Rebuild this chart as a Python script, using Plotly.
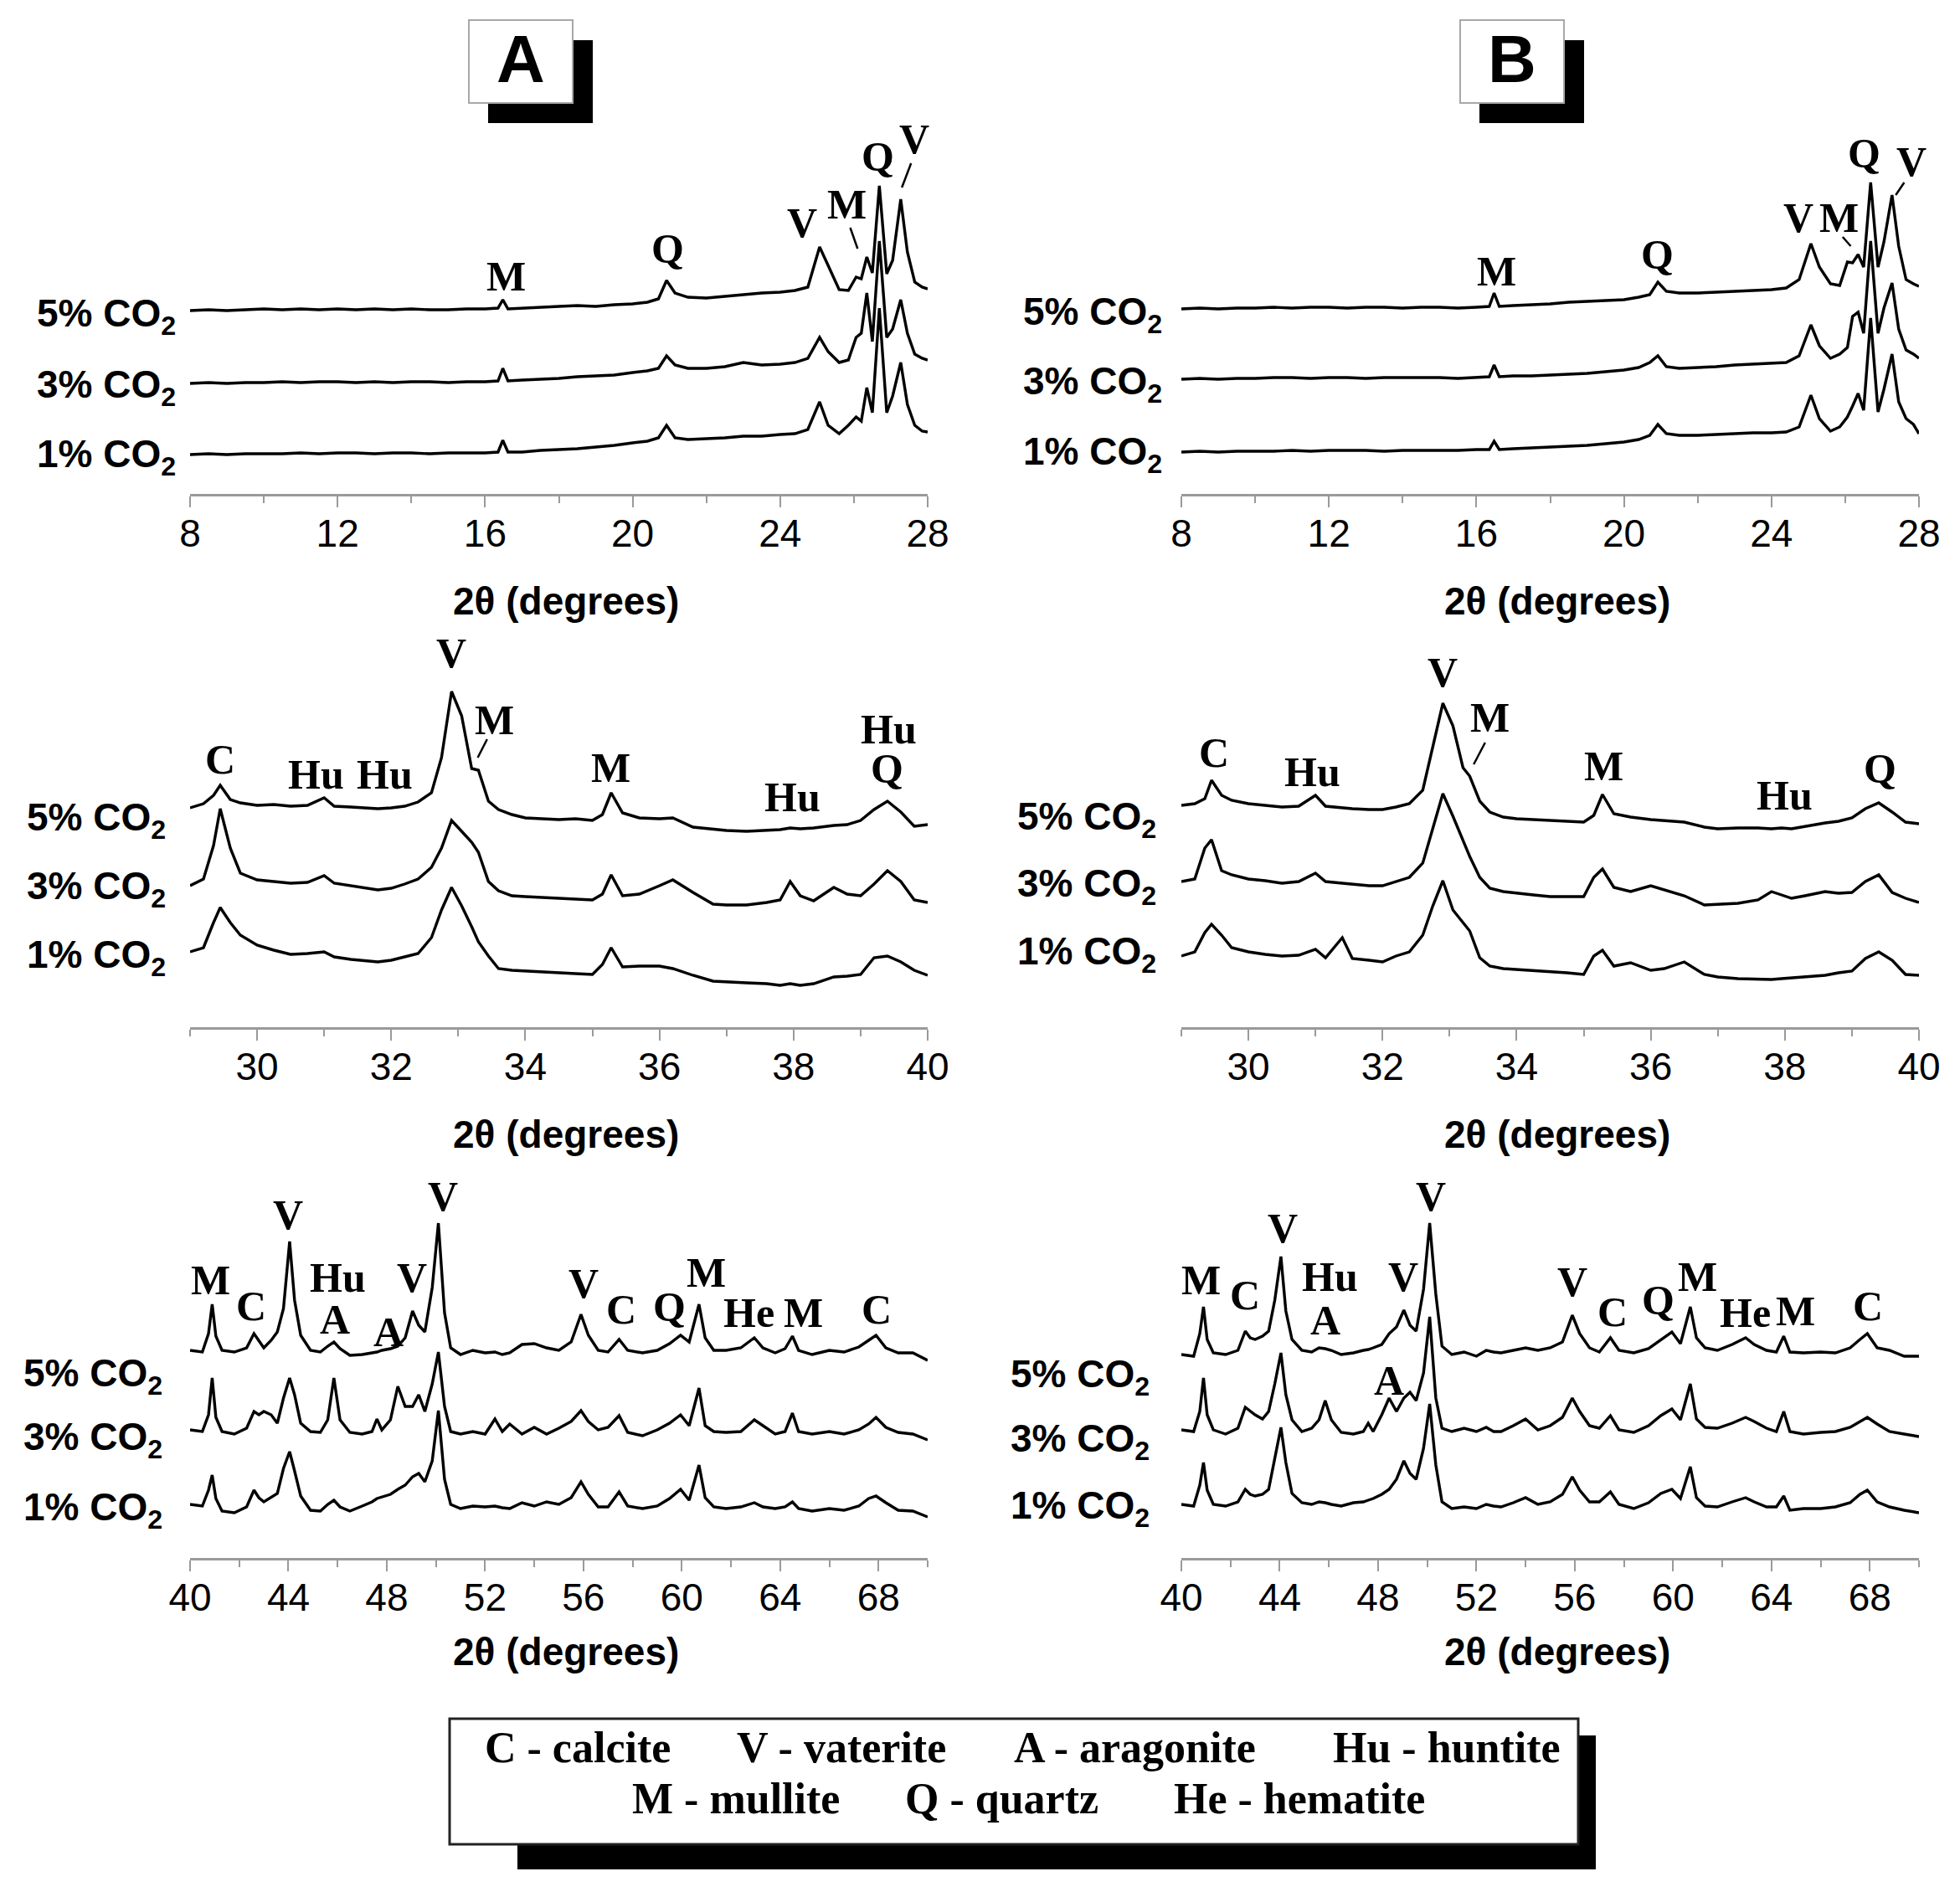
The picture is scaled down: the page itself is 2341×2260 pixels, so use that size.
import plotly.graph_objects as go

W, H = 2341, 2260
PAGE = 8  # the page body margin pushes the figure 8 px right and down

# ---------------- XRD patterns (intensity above each pattern's own start) ----------------
# top row, 8-28 deg
top_x = [8.0, 8.5, 9.0, 9.5, 10.0, 10.5, 11.0, 11.5, 12.0, 12.5, 13.0, 13.5, 14.0, 14.5, 15.0,
         15.5, 16.0, 16.35, 16.48, 16.62, 17.0, 17.5, 18.0, 18.5, 19.0, 19.5, 20.0, 20.4, 20.7, 20.92,
         21.15, 21.5, 22.0, 22.5, 23.0, 23.5, 24.0, 24.4, 24.75, 25.07, 25.3, 25.6, 25.85, 26.06, 26.2,
         26.35, 26.5, 26.69, 26.89, 27.05, 27.27, 27.45, 27.65, 27.85, 28.0]
top_a_5 = [0, 1, 0, 1, 2, 1, 2, 1, 2, 1, 2, 1, 2, 1, 1, 2, 2, 3, 13, 2, 3, 4, 5, 6, 5, 7, 8, 10, 14, 36,
           21, 16, 15, 17, 19, 21, 22, 24, 28, 76, 54, 25, 24, 40, 38, 64, 45, 149, 44, 60, 133, 70, 34, 28, 26]
top_a_3 = [0, 1, 0, 1, 1, 2, 1, 2, 2, 1, 2, 1, 2, 2, 1, 2, 2, 3, 18, 3, 4, 5, 6, 8, 9, 10, 13, 15, 18, 33,
           22, 18, 18, 20, 25, 22, 23, 25, 30, 55, 38, 25, 28, 55, 60, 108, 50, 170, 55, 65, 100, 60, 35, 30, 28]
top_a_1 = [0, 1, 0, 1, 1, 1, 2, 1, 2, 2, 1, 2, 2, 1, 2, 2, 2, 3, 17, 3, 3, 5, 6, 7, 9, 11, 14, 16, 20, 35,
           20, 18, 19, 20, 22, 22, 24, 25, 30, 63, 35, 25, 35, 45, 40, 80, 50, 175, 50, 70, 110, 60, 35, 28, 27]
top_b_5 = [0, 1, 0, 1, 1, 2, 1, 2, 2, 1, 2, 2, 1, 2, 2, 1, 2, 3, 19, 3, 4, 5, 6, 8, 9, 10, 11, 14, 17, 32,
           21, 19, 19, 20, 21, 22, 23, 25, 35, 78, 50, 30, 28, 56, 55, 65, 50, 151, 50, 80, 136, 75, 35, 30, 27]
top_b_3 = [0, 1, 0, 1, 1, 2, 2, 1, 2, 2, 1, 2, 2, 2, 2, 1, 2, 3, 17, 3, 4, 4, 5, 6, 7, 9, 11, 14, 20, 28,
           15, 13, 14, 15, 17, 18, 19, 20, 28, 65, 40, 25, 30, 38, 75, 80, 55, 165, 55, 85, 115, 60, 35, 30, 25]
top_b_1 = [0, 1, 0, 1, 1, 1, 2, 1, 2, 2, 2, 1, 2, 2, 2, 2, 3, 3, 13, 3, 4, 5, 6, 7, 8, 10, 12, 15, 20, 33,
           22, 20, 20, 21, 22, 23, 23, 24, 30, 68, 40, 25, 30, 42, 55, 70, 50, 160, 48, 75, 117, 60, 40, 33, 22]

# middle row, 29-40 deg
mid_x = [29.0, 29.2, 29.35, 29.45, 29.6, 29.75, 30.0, 30.25, 30.5, 30.75, 31.0, 31.15, 31.4, 31.55, 31.8,
         32.0, 32.2, 32.4, 32.6, 32.75, 32.9, 33.05, 33.2, 33.3, 33.45, 33.6, 33.8, 34.0, 34.25, 34.5,
         34.75, 35.0, 35.15, 35.28, 35.45, 35.7, 36.0, 36.2, 36.5, 36.8, 37.0, 37.3, 37.6, 37.8, 37.95,
         38.1, 38.3, 38.6, 38.8, 39.0, 39.2, 39.4, 39.6, 39.8, 40.0]
mid_a_5 = [0, 5, 15, 27, 10, 6, 3, 4, 2, 3, 12, 2, 1, 0, -1, 0, 2, 7, 18, 60, 139, 110, 47, 45, 8,
           -2, -8, -12, -13, -14, -13, -15, -8, 18, -6, -12, -13, -12, -23, -25, -27, -28, -27, -26, -24,
           -25, -24, -21, -20, -15, -2, 8, -5, -22, -20]
mid_a_3 = [0, 8, 48, 92, 45, 15, 7, 5, 3, 4, 12, 3, 0, -2, -5, -3, 2, 8, 22, 45, 78, 65, 52, 40, 5,
           -6, -12, -13, -14, -15, -16, -17, -10, 13, -12, -10, 0, 7, -8, -22, -23, -23, -20, -17, 5,
           -12, -18, -2, -10, -12, 2, 18, 5, -17, -20]
mid_a_1 = [0, 5, 35, 53, 35, 20, 8, 2, -3, -2, 0, -6, -9, -10, -12, -10, -6, -2, 17, 50, 77, 55, 30, 12, -5,
           -20, -22, -23, -24, -25, -26, -27, -15, 5, -18, -17, -17, -20, -28, -35, -36, -37, -38, -40, -38,
           -40, -38, -30, -29, -27, -7, -5, -12, -22, -28]
mid_b_5 = [0, 2, 8, 30, 12, 6, 2, 0, -2, -1, 12, -1, -3, -4, -5, -5, -2, 2, 18, 70, 122, 95, 45, 35, 5,
           -8, -14, -16, -17, -18, -19, -20, -12, 13, -10, -14, -17, -18, -20, -26, -28, -27, -27, -28, -27,
           -28, -25, -21, -19, -15, -4, 3, -8, -20, -22]
mid_b_3 = [0, 3, 40, 50, 13, 8, 3, 1, -2, 0, 10, 0, -2, -3, -5, -5, 0, 5, 22, 65, 105, 78, 50, 30, 5,
           -8, -12, -14, -16, -18, -18, -18, 5, 15, -7, -12, -5, -10, -17, -28, -27, -26, -22, -12, -16,
           -20, -17, -12, -14, -13, 0, 8, -13, -20, -25]
mid_b_1 = [0, 5, 28, 38, 25, 10, 5, 2, 0, 1, 8, -2, 22, -3, -5, -7, 0, 5, 25, 60, 90, 55, 40, 30, -2,
           -12, -15, -16, -17, -18, -20, -22, 0, 7, -12, -8, -17, -15, -7, -22, -25, -27, -28, -28, -27,
           -26, -25, -23, -20, -18, -3, 5, -5, -22, -23]

# bottom row, 40-70 deg
bot_x = [40.0, 40.5, 40.75, 40.9, 41.05, 41.3, 41.8, 42.3, 42.6, 42.8, 43.0, 43.3, 43.55, 43.8, 44.05,
         44.25, 44.5, 44.9, 45.3, 45.6, 45.85, 46.1, 46.5, 47.0, 47.4, 47.6, 47.8, 48.15, 48.45, 48.75,
         49.05, 49.3, 49.55, 49.85, 50.1, 50.35, 50.6, 51.0, 51.5, 52.0, 52.4, 52.7, 53.0, 53.5, 54.0,
         54.5, 55.0, 55.5, 55.9, 56.2, 56.6, 57.0, 57.45, 57.8, 58.4, 59.0, 59.5, 59.95, 60.3, 60.7,
         60.95, 61.3, 61.8, 62.4, 62.95, 63.3, 63.8, 64.2, 64.5, 64.75, 65.3, 66.0, 66.6, 67.2, 67.6,
         67.9, 68.3, 68.8, 69.4, 70.0]
bot_a_5 = [0, -2, 20, 55, 17, 0, -2, 3, 20, 12, 3, 12, 22, 50, 130, 60, 18, 0, -2, 5,
           10, 2, -6, -5, -3, -2, 0, 2, 5, 15, 47, 30, 22, 75, 152, 45, 3, -5, 0, -3,
           -2, -5, -3, 7, 8, 3, 0, 10, 43, 18, 0, -2, 13, 0, -3, 0, 8, 18, 10, 55,
           15, 0, 0, 3, 15, 3, -3, 2, 17, 0, -5, 0, -2, 4, 12, 18, 3, -3, -3, -12]
bot_a_3 = [0, -2, 18, 62, 15, -2, -5, 2, 22, 18, 22, 18, 8, 38, 62, 42, 8, -2, -3, 12,
           62, 12, -3, -5, -2, 13, 0, 12, 52, 28, 28, 42, 22, 55, 93, 28, -2, -5, -2, -5,
           13, -2, 7, -5, 3, -5, 2, 10, 23, 10, 0, 3, 17, -3, -7, 0, 8, 18, 5, 50,
           5, -2, -3, -2, 12, 5, -5, -2, 20, -2, -5, -2, -5, 0, 7, 15, 3, -3, -5, -12]
bot_a_1 = [0, -2, 17, 35, 7, -8, -10, -3, 17, 8, 3, 8, 13, 43, 63, 40, 10, -7, -8, 0,
           5, -3, -8, -2, 3, 7, 9, 12, 18, 23, 33, 37, 27, 52, 112, 30, 0, -5, -2, -3,
           -2, -4, -5, 2, -2, 3, 0, 8, 27, 12, -3, -3, 15, -2, -5, -2, 7, 18, 5, 47,
           8, -3, -5, -3, 2, -3, -5, -3, 3, -5, -8, -5, -7, -2, 7, 10, 2, -7, -8, -15]
bot_b_5 = [0, -2, 25, 57, 18, 2, 0, 5, 28, 20, 18, 22, 28, 65, 117, 52, 18, 5, 3, 8,
           7, 5, 0, 2, 5, 6, 8, 12, 25, 33, 53, 35, 28, 78, 157, 72, 10, 0, 3, -2,
           5, 3, 2, 5, 8, 5, 8, 15, 47, 25, 8, 3, 20, 5, 2, 7, 18, 27, 13, 57,
           20, 8, 5, 12, 20, 12, 5, 3, 22, 3, 2, 3, 2, 8, 18, 25, 8, 5, -2, -2]
bot_b_3 = [0, -2, 22, 62, 18, 0, -5, 2, 27, 22, 18, 13, 22, 55, 92, 42, 12, -2, 2, 12,
           35, 12, -3, -5, -2, 8, -2, 18, 38, 22, 38, 45, 35, 68, 135, 38, 2, -2, 2, -2,
           3, -2, -2, 5, 13, 0, 5, 15, 38, 22, 5, 2, 17, 0, -3, 5, 17, 25, 12, 55,
           13, 3, 2, 8, 15, 10, 2, -2, 22, -2, -5, -3, -2, 3, 10, 15, 7, -2, -5, -8]
bot_b_1 = [0, -2, 23, 50, 17, 0, -2, 3, 18, 12, 10, 12, 18, 57, 92, 50, 13, 2, 0, 3,
           2, 0, -2, 2, 3, 5, 7, 12, 18, 30, 52, 37, 30, 67, 120, 47, 3, -5, -3, -5,
           0, -2, -3, 2, 8, 0, 3, 12, 33, 17, 3, 3, 15, 0, -5, 2, 13, 18, 7, 45,
           8, -2, -3, 3, 8, 3, -3, -3, 10, -7, -5, -5, -3, 2, 12, 17, 3, -3, -7, -10]

sample_labels = ["5% CO<sub>2</sub>", "3% CO<sub>2</sub>", "1% CO<sub>2</sub>"]

# peak assignments per panel: (phase, 2theta, label height)
peaks_top_a = [("M", 16.58, 260), ("Q", 20.96, 293), ("V", 24.6, 324), ("M", 25.81, 346),
               ("Q", 26.64, 403), ("V", 27.64, 424)]
peaks_top_b = [("M", 16.55, 266), ("Q", 20.91, 286), ("V", 24.74, 330), ("M", 25.84, 330),
               ("Q", 26.52, 407), ("V", 27.8, 397)]
peaks_mid_a = [("C", 29.45, 320), ("Hu", 30.88, 302), ("Hu", 31.9, 302), ("V", 32.89, 447),
               ("M", 33.54, 367), ("M", 35.28, 310), ("Hu", 37.98, 275), ("Hu", 39.42, 356),
               ("Q", 39.39, 309)]
peaks_mid_b = [("C", 29.49, 328), ("Hu", 30.96, 305), ("V", 32.9, 424), ("M", 33.6, 370),
               ("M", 35.3, 312), ("Hu", 38.0, 277), ("Q", 39.42, 309)]
peaks_bot_a = [("M", 40.82, 332), ("C", 42.5, 301), ("V", 43.99, 410), ("Hu", 46.01, 335),
               ("A", 45.89, 285), ("A", 48.07, 270), ("V", 49.03, 335), ("V", 50.27, 432),
               ("V", 55.99, 328), ("C", 57.52, 297), ("Q", 59.5, 300), ("M", 60.99, 341),
               ("He", 62.72, 293), ("M", 64.95, 293), ("C", 67.92, 297)]
peaks_bot_b = [("M", 40.81, 332), ("C", 42.6, 314), ("V", 44.12, 394), ("Hu", 46.03, 336),
               ("A", 45.85, 284), ("V", 49.03, 336), ("V", 50.15, 432), ("A", 48.45, 212),
               ("V", 55.9, 330), ("C", 57.53, 294), ("Q", 59.39, 308), ("M", 60.99, 336),
               ("He", 62.95, 293), ("M", 64.99, 295), ("C", 67.91, 301)]

legend_row1 = ["C - calcite", "V - vaterite", "A - aragonite", "Hu - huntite"]
legend_row2 = ["M - mullite", "Q - quartz", "He - hematite"]

# ---------------- layout helpers ----------------
SPAN = 460
dom_x = {"A": (227, 1108), "B": (1411, 2292)}
row_axis = {"top": 590, "mid": 1227, "bot": 1861}
row_ticks = {
    "top": dict(range=[8, 28], tick0=8, dtick=4, minor=2, m0=8, title=128),
    "mid": dict(range=[29, 40], tick0=30, dtick=2, minor=1, m0=29, title=128),
    "bot": dict(range=[40, 70], tick0=40, dtick=4, minor=2, m0=40, title=112),
}


def fx(px):
    return (px - PAGE) / W


def fy(py):
    return 1 - (py - PAGE) / H


panels = [
    dict(row="top", col="A", x=top_x, ys=[top_a_5, top_a_3, top_a_1], off=[219, 132, 47],
         lab_y=[218, 133, 50], lab_r=212, peaks=peaks_top_a,
         leaders=[(25.9, 318, 26.1, 293), (27.55, 395, 27.3, 366)]),
    dict(row="top", col="B", x=top_x, ys=[top_b_5, top_b_3, top_b_1], off=[221, 137, 50],
         lab_y=[220, 137, 53], lab_r=1390, peaks=peaks_top_b,
         leaders=[(25.93, 307, 26.15, 296), (27.6, 372, 27.37, 357)]),
    dict(row="mid", col="A", x=mid_x, ys=[mid_a_5, mid_a_3, mid_a_1], off=[262, 169, 90],
         lab_y=[254, 172, 90], lab_r=200, peaks=peaks_mid_a,
         leaders=[(33.43, 344, 33.29, 322)]),
    dict(row="mid", col="B", x=mid_x, ys=[mid_b_5, mid_b_3, mid_b_1], off=[265, 174, 85],
         lab_y=[255, 175, 94], lab_r=1383, peaks=peaks_mid_b,
         leaders=[(33.53, 340, 33.36, 314)]),
    dict(row="bot", col="A", x=bot_x, ys=[bot_a_5, bot_a_3, bot_a_1], off=[248, 153, 64],
         lab_y=[224, 148, 64], lab_r=196, peaks=peaks_bot_a, leaders=[]),
    dict(row="bot", col="B", x=bot_x, ys=[bot_b_5, bot_b_3, bot_b_1], off=[243, 153, 64],
         lab_y=[223, 146, 66], lab_r=1375, peaks=peaks_bot_b, leaders=[]),
]

AXIS_GRAY = "#9a9a9a"
SANS = "Liberation Sans, Arial, sans-serif"
NARROW = "Liberation Sans Narrow, Liberation Sans, Arial, sans-serif"
SERIF = "Liberation Serif, Times New Roman, serif"

fig = go.Figure()
layout = {}
annotations = []
shapes = []

for i, p in enumerate(panels):
    n = i + 1
    sfx = "" if n == 1 else str(n)
    xa, ya = "x" + sfx, "y" + sfx
    for ys, off in zip(p["ys"], p["off"]):
        fig.add_trace(go.Scatter(x=p["x"], y=[v + off for v in ys], mode="lines",
                                 line=dict(color="black", width=3.4),
                                 xaxis=xa, yaxis=ya, hoverinfo="skip", showlegend=False))

    ax_px = row_axis[p["row"]]
    t = row_ticks[p["row"]]
    x0, x1 = dom_x[p["col"]]
    layout["xaxis" + sfx] = dict(
        domain=[fx(x0), fx(x1)], anchor=ya, range=t["range"], automargin=False,
        tickmode="linear", tick0=t["tick0"], dtick=t["dtick"],
        showline=True, linecolor=AXIS_GRAY, linewidth=3, showgrid=False, zeroline=False,
        ticks="outside", ticklen=13, tickwidth=2, tickcolor=AXIS_GRAY,
        ticklabelstandoff=-8,
        tickfont=dict(family=SANS, size=46, color="black"),
        minor=dict(ticks="outside", ticklen=8, tickwidth=2, tickcolor=AXIS_GRAY,
                   tick0=t["m0"], dtick=t["minor"], showgrid=False),
        fixedrange=True,
    )
    layout["yaxis" + sfx] = dict(
        domain=[fy(ax_px), fy(ax_px - SPAN)], anchor=xa, automargin=False,
        range=[0, SPAN], visible=False, fixedrange=True,
    )

    # axis title
    annotations.append(dict(
        text="<b>2θ (degrees)</b>", xref="paper", yref="paper",
        x=fx((x0 + x1) / 2 + 8), y=fy(ax_px + t["title"]),
        xanchor="center", yanchor="middle", showarrow=False,
        font=dict(family=SANS, size=46, color="black")))

    # sample labels
    for txt, ly in zip(sample_labels, p["lab_y"]):
        annotations.append(dict(
            text="<b>" + txt + "</b>", xref="paper", yref=ya,
            x=fx(p["lab_r"]), y=ly, xanchor="right", yanchor="middle", yshift=-6,
            showarrow=False, font=dict(family=NARROW, size=46, color="black")))

    # peak letters
    for txt, px, py in p["peaks"]:
        annotations.append(dict(
            text="<b>" + txt + "</b>", xref=xa, yref=ya, x=px, y=py,
            xanchor="center", yanchor="middle", showarrow=False,
            font=dict(family=SERIF, size=50, color="black")))

    for lx0, ly0, lx1, ly1 in p["leaders"]:
        shapes.append(dict(type="line", xref=xa, yref=ya, x0=lx0, y0=ly0, x1=lx1, y1=ly1,
                           line=dict(color="black", width=2.5)))


def box(x0, y0, x1, y1, fill, line_color, lw):
    return dict(type="rect", xref="paper", yref="paper",
                x0=fx(x0), x1=fx(x1), y0=fy(y0), y1=fy(y1),
                fillcolor=fill, line=dict(color=line_color, width=lw))


# panel tags A / B with drop shadow
for tag, dx in (("A", 0), ("B", 1184)):
    shapes.append(box(583 + dx, 48, 708 + dx, 147, "black", "black", 0))
    shapes.append(box(560 + dx, 24, 684 + dx, 123, "white", "#a8a8a8", 2))
    annotations.append(dict(text="<b>" + tag + "</b>", xref="paper", yref="paper",
                            x=fx(622 + dx), y=fy(70), xanchor="center", yanchor="middle",
                            showarrow=False, font=dict(family=SANS, size=80, color="black")))

# phase key box with drop shadow
shapes.append(box(618, 2073, 1906, 2233, "black", "black", 0))
shapes.append(box(537, 2053, 1885, 2203, "white", "#222222", 3))
for txt, cx in zip(legend_row1, [690, 1005, 1355, 1728]):
    annotations.append(dict(text="<b>" + txt + "</b>", xref="paper", yref="paper",
                            x=fx(cx), y=fy(2087), xanchor="center", yanchor="middle",
                            showarrow=False, font=dict(family=SERIF, size=52, color="black")))
for txt, cx in zip(legend_row2, [879, 1196, 1552]):
    annotations.append(dict(text="<b>" + txt + "</b>", xref="paper", yref="paper",
                            x=fx(cx), y=fy(2148), xanchor="center", yanchor="middle",
                            showarrow=False, font=dict(family=SERIF, size=52, color="black")))

fig.update_layout(
    width=W, height=H, margin=dict(l=0, r=0, t=0, b=0, autoexpand=False),
    paper_bgcolor="white", plot_bgcolor="white", showlegend=False,
    annotations=annotations, shapes=shapes, **layout,
)

fig.write_html("out.html")
